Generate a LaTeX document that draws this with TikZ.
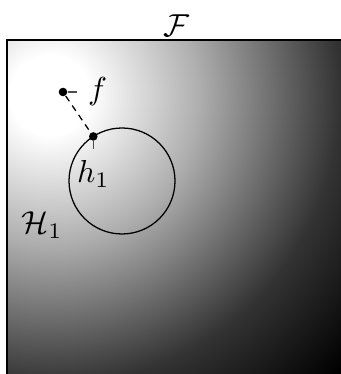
\documentclass[tikz,border=0pt]{standalone}
\usetikzlibrary{calc}
\pgfdeclareradialshading{fshade}{\pgfpoint{0bp}{0bp}}{color(0bp)=(white); color(2bp)=(white); color(7.5bp)=(black!32); color(14.5bp)=(black!80); color(20bp)=(black); color(50bp)=(black)}
\tikzset{
  dot/.style={circle, fill=black, inner sep=0pt, minimum size=2.7pt},
  pinline/.style={draw=black!70, thin},
}
\begin{document}
\begin{tikzpicture}[x=0.315pt, y=0.315pt]
\useasboundingbox (0,0) rectangle (340,374);
\begin{scope}
  \clip (7,0) rectangle (341,334);
  \shade[shading=fshade] (50,279) circle (500);
\end{scope}
\draw[thin] (7,-2) rectangle (342,334);
\node (F) at (176,348) {$\mathcal{F}$};
\node (H) at (42,149) {$\mathcal{H}_1$};
\coordinate (c) at (122,193);
\draw[thin] (c) circle (53);
\node[dot, pin={[pin distance=2.8pt, pin edge={pinline}]0:$f$}] (f) at (63,282) {};
\node[dot, pin={[pin distance=2.4pt, pin edge={pinline}]270:$h_1$}] (h) at ($(c)+(122.8:53)$) {};
\draw[dash pattern=on 2pt off 1.6pt] (f) -- (h);
\end{tikzpicture}
\end{document}
